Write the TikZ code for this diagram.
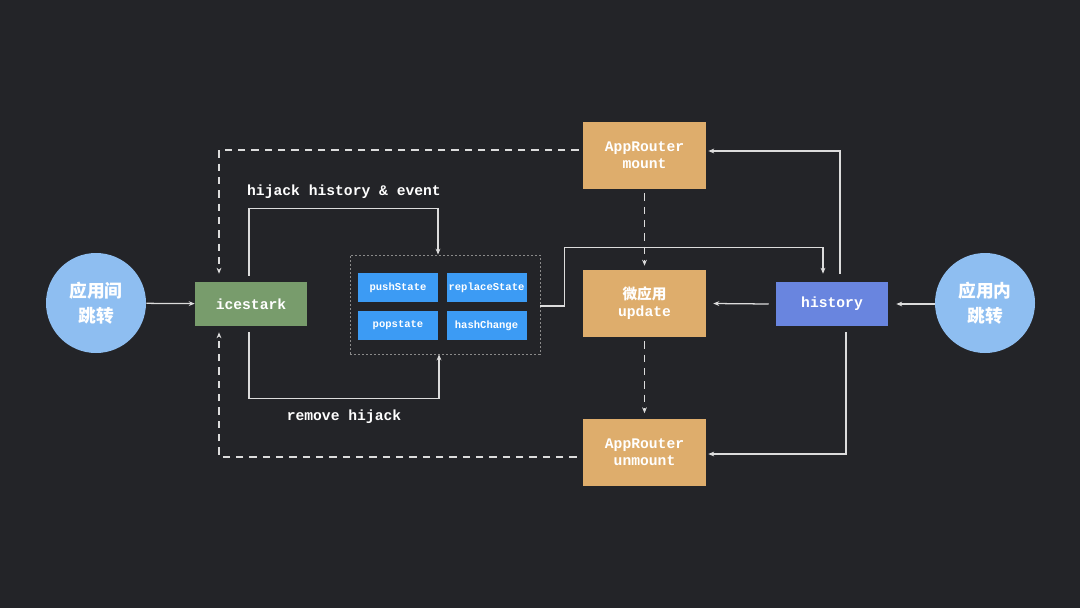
\documentclass[tikz,border=0pt]{standalone}
\usepackage{fontspec}
\setmonofont{Liberation Mono}
\newfontfamily\cjk{Noto Sans CJK SC}
\usetikzlibrary{arrows.meta,calc}
\definecolor{bg}{HTML}{232428}
\definecolor{circ}{HTML}{8EBEF1}
\definecolor{grn}{HTML}{789C6C}
\definecolor{blu}{HTML}{3C9BF4}
\definecolor{org}{HTML}{DEAD6C}
\definecolor{hst}{HTML}{6985DF}
\definecolor{linec}{HTML}{DCDCDC}
\definecolor{boxline}{HTML}{8A8A8A}
\begin{document}
\begin{tikzpicture}[x=0.75pt,y=-0.75pt,
  txt/.style={text=white,font=\ttfamily\bfseries\fontsize{11}{12.75}\selectfont,align=center},
  box/.style={txt,inner sep=0pt,minimum width=84pt,minimum height=33pt},
  orgbox/.style={txt,inner sep=0pt,fill=org,minimum width=92.25pt,minimum height=50.25pt},
  small/.style={inner sep=0pt,fill=blu,text=white,minimum width=60pt,minimum height=21.75pt,font=\ttfamily\bfseries\fontsize{7.9}{9}\selectfont},
  circnode/.style={circle,fill=circ,minimum size=75pt,inner sep=0pt,text=white,align=center,font=\cjk\bfseries\fontsize{13.3}{18.75}\selectfont},
  ln/.style={draw=linec,line width=0.95pt},
  arr/.style={ln,-{Stealth[length=4.5pt,width=3.6pt]}},
  dsh/.style={arr,dash pattern=on 5.5pt off 4.5pt}]
\fill[bg] (0,0) rectangle (1080,608);

\node[circnode] (c1) at (96,303) {应用间\\跳转};
\node[circnode] (c2) at (985,303) {应用内\\跳转};
\node[box,fill=grn] (ice) at (251,304) {icestark};
\node[box,fill=hst] (hist) at (832,304) {history};
\node[draw=boxline,line width=0.6pt,dash pattern=on 1.5pt off 1.5pt,inner sep=0pt,minimum width=142.5pt,minimum height=74.25pt] (hb) at (445,304.5) {};
\node[small] (ps) at (398,287.5) {pushState};
\node[small] (rs) at (486.5,287.5) {replaceState};
\node[small] (pp) at (398,325.5) {popstate};
\node[small] (hc) at (486.5,325.5) {hashChange};
\node[orgbox] (mount) at (644.5,155.5) {AppRouter\\mount};
\node[orgbox] (upd) at (644.5,303.5) {{\cjk\bfseries 微应用}\\update};
\node[orgbox] (unm) at (644.5,452) {AppRouter\\unmount};

\node[txt] (lh) at (344,192) {hijack history \& event};
\node[txt] (lr) at (344,417) {remove hijack};

\draw[arr] (c1) -- (ice);
\draw[arr] ($(ice.north)+(-2,-6)$) |- ($(hb.north)+(-7,-46)$) -- ($(hb.north)+(-7,0)$);
\draw[arr] ($(ice.south)+(-2,6)$) |- ($(hb.south)+(-6,44)$) -- ($(hb.south)+(-6,0)$);
\draw[arr] ($(hb.east)+(0,1.5)$) -- ++(24,0) |- ($(hist.north)+(-9,-34)$) -- ($(hist.north)+(-9,-8)$);
\draw[arr] ($(hist.north)+(8,-8)$) |- ($(mount.east)+(2,-4.5)$);
\draw[arr] ($(hist.south)+(14,6)$) |- ($(unm.east)+(2,2)$);
\draw[arr] ($(hist.west)+(-7,0)$) -- ($(upd.east)+(7,0)$);
\draw[arr] (hist.east -| c2.west) -- ($(hist.east)+(8,0)$);
\draw[dsh] ($(mount.south)+(0,4)$) -- ($(upd.north)+(0,-4)$);
\draw[dsh] ($(upd.south)+(0,4)$) -- ($(unm.north)+(0,-5)$);
\draw[dsh] ($(mount.west)+(-4,-5.5)$) -| ($(ice.north)+(-32,-8)$);
\draw[dsh] ($(unm.west)+(-6,5)$) -| ($(ice.south)+(-32,6)$);
\end{tikzpicture}
\end{document}
